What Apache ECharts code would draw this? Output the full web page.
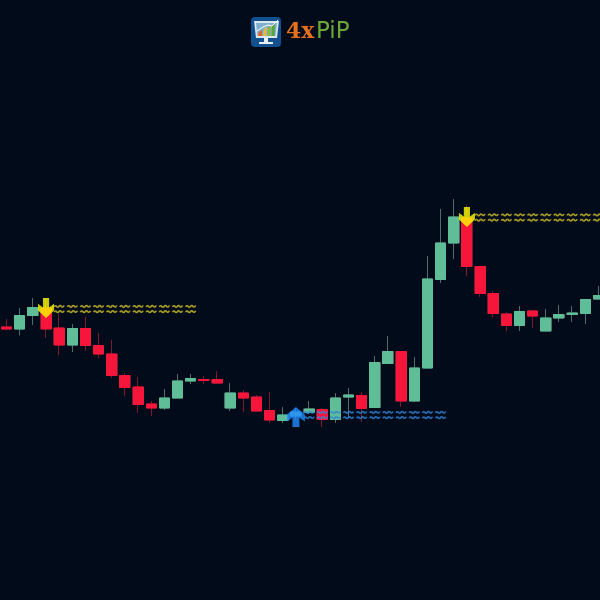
<!DOCTYPE html>
<html><head><meta charset="utf-8">
<style>html,body{margin:0;padding:0;background:#020b1a}#c{width:600px;height:600px}</style>
<script src="https://cdn.jsdelivr.net/npm/echarts@6/dist/echarts.min.js"></script>
</head><body><div id="c"></div>
<script>
// Price scale, arbitrary units (no axis is shown)
const candleIndex = Array.from({length:46},(_,i)=>'c'+i);
const opens  = [273.0,271.0,284.5,292,272,255,271.5,254.5,246,224.5,213,196,192,202,219,220.5,220.5,192,207,203,189.5,179.5,184,187.5,190.5,180.5,203,204.5,192.5,236.5,248.5,199,232,320.5,357,382,333.5,306.5,286,274.5,289,269,282,285.5,286.5,301];
const closes = [271.0,284.5,292.5,271,255,271.5,254.5,246,224.5,212.5,195.5,192,202,219,221.5,219.5,217,207,202,189,180,185,188,191,180.5,202,205,191.5,237.5,248.5,199,232,321,357,383,333.5,306.5,286.5,274.5,288.5,284,282,285.5,287,300.5,304.5];
const lows   = [270,264.5,275,262,245,248,249,242,222,204,187,184,190,202,216,216,217,189,188,189,177,177,180,186,173,177,182,178,192,236,193,198,232,317,341,324,303,283,269,269,272,269,278,278,276,301];
const highs  = [281,292,302,302,286,276,283,267,260,227,223,199,211,226,226,224,229,217,210,205,208,193,192,199,192,207,212,208,244,264,248,243,344,391,401,395,334,309,288,294,289,291,295,294,300,314];
const shortSignals = [[3,292],[35,383]];
const longSignals  = [[22,183]];
const shortLevelA = [4,5,6,7,8,9,10,11,12,13,14];
const shortLevelB = [36,37,38,39,40,41,42,43,44,45];
const longLevel   = [23,24,25,26,27,28,29,30,31,32,33];
const shortLevelPriceA = 291, shortLevelPriceB = 382.5, longLevelPrice = 185;

const wave = 'path://M0 2 Q1.2 0 2.4 1.5 T4.8 1.5 T7.2 1.5 T10 0.8 M0 6.5 Q1.2 4.5 2.4 6 T4.8 6 T7.2 6 T10 5.3';
const arrowDown = 'path://M4 0 H9 V7.5 L13 4.5 V10 L6.5 16 L0 10 V4.5 L4 7.5 Z';
const arrowUp   = 'path://M4 16 H9 V8.5 L13 11.5 V6 L6.5 0 L0 6 V11.5 L4 8.5 Z';

const ohlc = candleIndex.map((_,i)=>[opens[i],closes[i],lows[i],highs[i]]);
const bodies = candleIndex.map((_,i)=>{const a=opens[i],b=closes[i];return [a,b,Math.min(a,b),Math.max(a,b)];});

const GREEN='#5fbe98', RED='#f6163c';
const waveSeries=(xs,y,color)=>({type:'scatter',data:xs.map(x=>[x,y]),symbol:wave,symbolSize:[10,7],
  itemStyle:{color:'transparent',borderColor:color,borderWidth:1.5},z:5,silent:true});
const arrowSeries=(d,symbol,color,size)=>({type:'scatter',data:d,symbol,symbolSize:size,
  itemStyle:{color},z:6,silent:true});

const chart=echarts.init(document.getElementById('c'),null,{renderer:'canvas'});
chart.setOption({
  animation:false,
  backgroundColor:'#020b1a',
  grid:{left:0,width:605,top:0,bottom:0,outerBoundsMode:'none'},
  xAxis:{type:'category',data:candleIndex,show:false,boundaryGap:true},
  yAxis:{type:'value',min:0,max:600,show:false,splitLine:{show:false}},
  series:[
    {type:'candlestick',data:ohlc,barWidth:11,z:2,silent:true,
     itemStyle:{color:'#4d6f68',color0:'#7c1a2e',borderColor:'#4d6f68',borderColor0:'#7c1a2e',borderWidth:1}},
    {type:'candlestick',data:bodies,barWidth:10.5,z:3,silent:true,
     itemStyle:{color:GREEN,color0:RED,borderColor:GREEN,borderColor0:RED,borderWidth:1}},
    waveSeries(shortLevelA,shortLevelPriceA,'#cfc02a'),
    waveSeries(shortLevelB,shortLevelPriceB,'#cfc02a'),
    waveSeries(longLevel,longLevelPrice,'#2f86dc'),
    arrowSeries(shortSignals,arrowDown,'#ffff00',[16,20]),
    arrowSeries(longSignals,arrowUp,'#1f8cff',[18,20])
  ],
  graphic:[
    {type:'rect',shape:{x:251,y:17,width:30,height:30,r:4},style:{fill:'#12508f'}},
    {type:'polygon',shape:{points:[[254,21],[279,21],[277,38],[256,38]]},style:{fill:'#dbe6ec'}},
    {type:'polygon',shape:{points:[[256,23],[277,23],[275.5,36],[257.5,36]]},style:{fill:'#7fb0d0'}},
    {type:'polygon',shape:{points:[[258,36],[259,32],[262,30],[262,36]]},style:{fill:'#e0632a'}},
    {type:'polygon',shape:{points:[[263,36],[264,29],[267,27],[266.5,36]]},style:{fill:'#e6b93a'}},
    {type:'polygon',shape:{points:[[267.5,36],[268,27],[271,26],[270.5,36]]},style:{fill:'#8cbb3a'}},
    {type:'polygon',shape:{points:[[271.5,36],[272,26],[275,24],[274.5,36]]},style:{fill:'#5aa53a'}},
    {type:'polyline',shape:{points:[[257,31],[263,27],[268,25],[272,26],[278,20]]},style:{stroke:'#ffffff',fill:null,lineWidth:1}},
    {type:'rect',shape:{x:264,y:38,width:4,height:4},style:{fill:'#e8eef2'}},
    {type:'rect',shape:{x:259,y:42,width:14,height:2},style:{fill:'#e8eef2'}},
    {type:'text',style:{x:286,y:32,text:'4x',fill:'#e5701e',font:'bold 22px "DejaVu Serif"',textVerticalAlign:'middle'}},
    {type:'text',style:{x:316,y:32,text:'PiP',fill:'#6aa83a',font:'23px "DejaVu Sans"',textVerticalAlign:'middle'}}
  ]
});
</script></body></html>
